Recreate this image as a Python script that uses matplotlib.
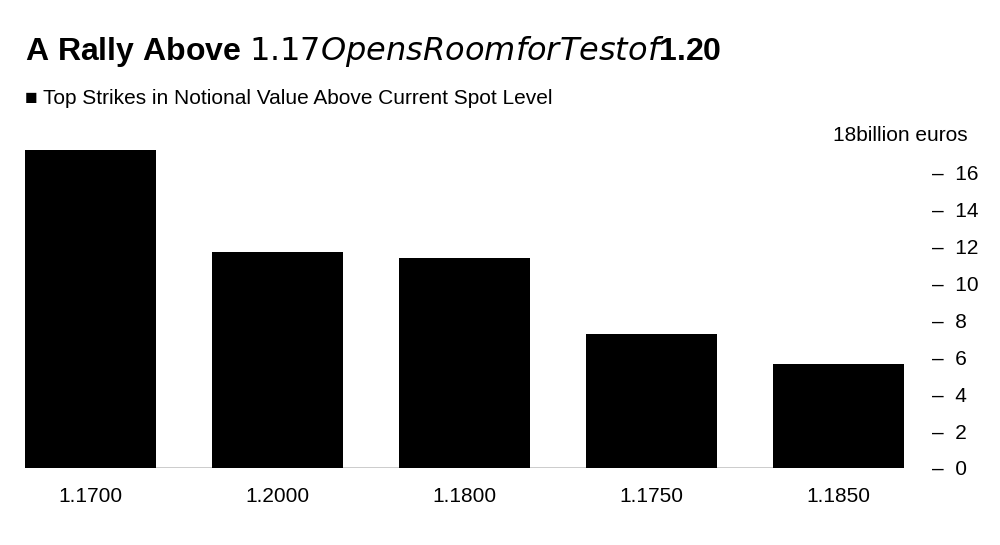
import matplotlib
matplotlib.use("Agg")
import matplotlib.pyplot as plt

categories = ["1.1700", "1.2000", "1.1800", "1.1750", "1.1850"]
values = [17.2, 11.7, 11.35, 7.25, 5.6]
yticks = [0, 2, 4, 6, 8, 10, 12, 14, 16]

plt.rcParams['font.family'] = ['Liberation Sans', 'DejaVu Sans']
fig = plt.figure(figsize=(10, 5.45), dpi=100)
ax = fig.add_axes([0.025, 0.1413, 0.879, 0.6107])
ax.bar(range(len(categories)), values, width=0.7, color="black")
ax.set_xlim(-0.35, len(categories) - 0.65)
ax.set_ylim(0, 18)
for s in ax.spines.values():
    s.set_visible(False)
ax.axhline(0, color="black", lw=1)
ax.set_xticks(range(len(categories)))
ax.set_xticklabels(categories, fontsize=15)
ax.tick_params(axis="x", length=0, pad=14)
ax.yaxis.tick_right()
ax.set_yticks(yticks)
ax.set_yticklabels([f"–  {v}" for v in yticks], fontsize=15)
ax.tick_params(axis="y", length=0, pad=20)
fig.text(0.968, 0.752, "18billion euros", fontsize=15, ha="right", va="center")
fig.text(0.025, 0.905, "A Rally Above $1.17 Opens Room for Test of $1.20",
         fontsize=23, fontweight="bold", ha="left", va="center")
fig.text(0.025, 0.82, "■ Top Strikes in Notional Value Above Current Spot Level",
         fontsize=15, ha="left", va="center")
fig.savefig("out.png", dpi=100, facecolor="white")
